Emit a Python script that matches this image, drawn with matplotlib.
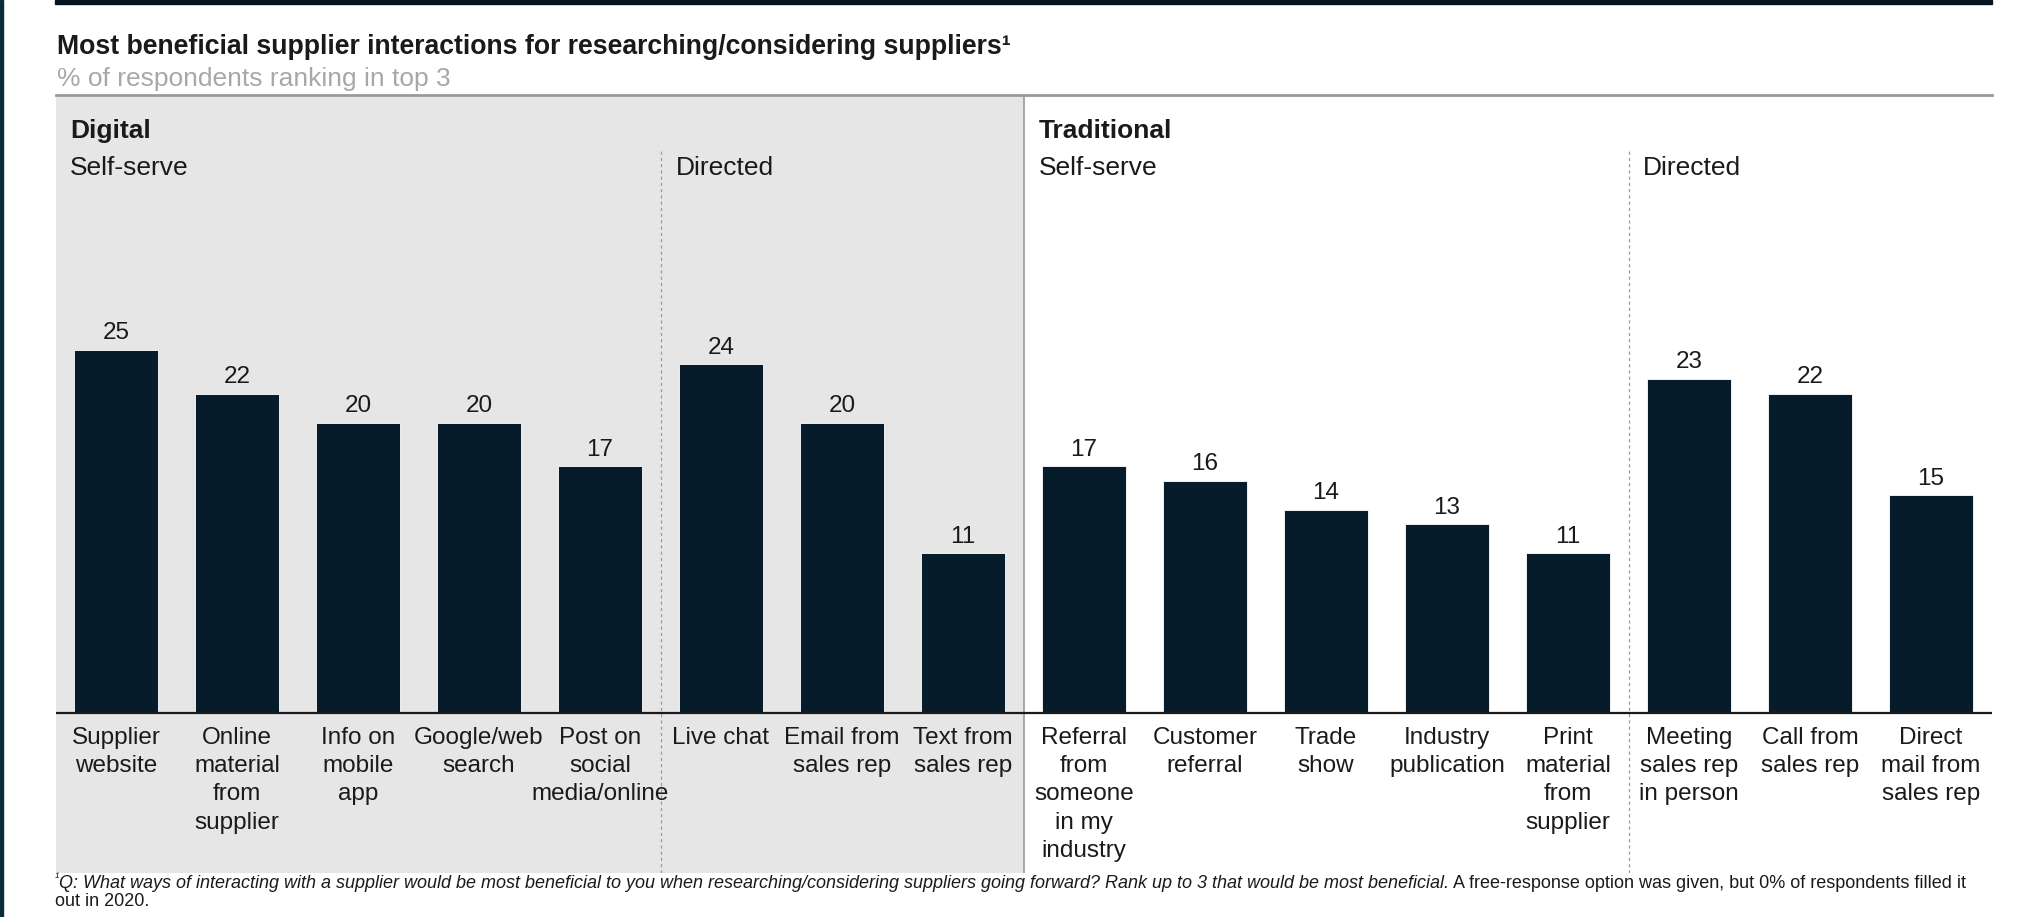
import matplotlib.pyplot as plt
from matplotlib.patches import Rectangle

# Survey results: % of respondents ranking the interaction in their top 3
categories = [
    "Supplier\nwebsite", "Online\nmaterial\nfrom\nsupplier", "Info on\nmobile\napp",
    "Google/web\nsearch", "Post on\nsocial\nmedia/online",
    "Live chat", "Email from\nsales rep", "Text from\nsales rep",
    "Referral\nfrom\nsomeone\nin my\nindustry", "Customer\nreferral", "Trade\nshow",
    "Industry\npublication", "Print\nmaterial\nfrom\nsupplier",
    "Meeting\nsales rep\nin person", "Call from\nsales rep", "Direct\nmail from\nsales rep",
]
values = [25, 22, 20, 20, 17, 24, 20, 11, 17, 16, 14, 13, 11, 23, 22, 15]

group_titles = ["Digital", "Traditional"]
subgroup_titles = ["Self-serve", "Directed", "Self-serve", "Directed"]

title = "Most beneficial supplier interactions for researching/considering suppliers\u00b9"
subtitle = "% of respondents ranking in top 3"
note_italic = ("Q: What ways of interacting with a supplier would be most beneficial to you when "
               "researching/considering suppliers going forward? Rank up to 3 that would be most beneficial.")
note_plain = " A free-response option was given, but 0% of respondents filled it"
note_line2 = "out in 2020."

bar_color = "#061c2b"
shade = "#e6e6e6"
text_color = "#1a1a1a"

plt.rcParams['font.family'] = ['Liberation Sans', 'DejaVu Sans']

W, H = 2041, 917
fig = plt.figure(figsize=(W / 100, H / 100), dpi=100)


def fx(px):
    return px / W


def fy(py):
    return 1 - py / H


# frame bits
fig.patches.append(Rectangle((0, 0), fx(3), 1, transform=fig.transFigure,
                             color="#0b2b3b", zorder=10))
fig.patches.append(Rectangle((fx(55), fy(4)), fx(1992) - fx(55), fy(0) - fy(4),
                             transform=fig.transFigure, color="#07141d", zorder=10))

ax = fig.add_axes([fx(55.5), fy(873), (1991.5 - 55.5) / W, (873 - 95) / H])
x = list(range(len(values)))

ax.axvspan(-0.5, 7.5, color=shade, zorder=0, lw=0)
ax.axvline(7.5, color="#9a9a9a", lw=1.2, zorder=1)
for xd in (4.5, 12.5):
    ax.axvline(xd, ymin=0, ymax=(873 - 148) / (873 - 95), color="#9a9a9a",
               lw=0.9, ls=(0, (2.5, 2.5)), zorder=1)

ax.bar(x, values, width=0.7, color=bar_color, edgecolor="white", linewidth=0.6, zorder=2)
ax.axhline(0, color=text_color, lw=1.6, zorder=3)

for i, v in enumerate(values):
    ax.annotate(str(v), (i, v), xytext=(0, 4), textcoords="offset points",
                ha="center", va="bottom", fontsize=17.5, color=text_color)
    ax.annotate(categories[i], (i, 0), xytext=(0, -10), textcoords="offset points",
                ha="center", va="top", fontsize=17.5, color=text_color, linespacing=1.37)

ax.set_xlim(-0.5, 15.5)
ax.set_ylim(-11.02, 42.56)
ax.set_xticks([])
ax.set_yticks([])
for s in ("left", "right", "bottom"):
    ax.spines[s].set_visible(False)
ax.spines["top"].set_color("#9a9a9a")
ax.spines["top"].set_linewidth(2)

# group headers
fig.text(fx(70), fy(131), group_titles[0], fontsize=19, weight="bold", va="center", color=text_color)
fig.text(fx(1039), fy(131), group_titles[1], fontsize=19, weight="bold", va="center", color=text_color)
for xp, t in zip((70, 676, 1039, 1643), subgroup_titles):
    fig.text(fx(xp), fy(168), t, fontsize=19, va="center", color=text_color)

fig.text(fx(57), fy(47), title, fontsize=19.2, weight="bold", va="center", color=text_color)
fig.text(fx(57), fy(79), subtitle, fontsize=19, va="center", color="#a8a8a8")

# footnote, italic question followed by plain remark
r = fig.canvas.get_renderer()
t1 = fig.text(fx(55), fy(879), "\u00b9", fontsize=9, va="center", style="italic", color=text_color)
xe = t1.get_window_extent(r).x1
t2 = fig.text(xe / W, fy(884), note_italic, fontsize=13.0, va="center", style="italic", color=text_color)
xe = t2.get_window_extent(r).x1
fig.text(xe / W, fy(884), note_plain, fontsize=13.0, va="center", color=text_color)
fig.text(fx(55), fy(902), note_line2, fontsize=13.0, va="center", color=text_color)

fig.savefig("out.png", dpi=100, facecolor="white")
